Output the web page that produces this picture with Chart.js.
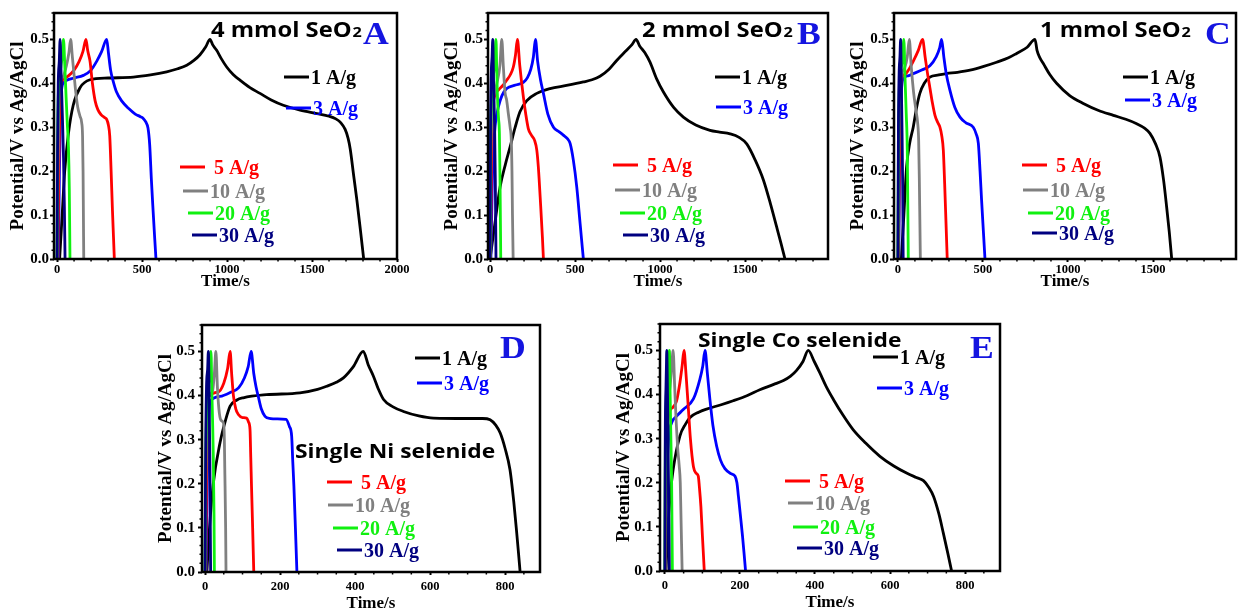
<!DOCTYPE html>
<html>
<head>
<meta charset="utf-8">
<script src="https://cdn.jsdelivr.net/npm/chart.js@4.4.1/dist/chart.umd.min.js"></script>
<style>
  html, body { margin: 0; padding: 0; background: #fff; overflow: hidden; }
  body { width: 1238px; height: 613px; position: relative; }
  canvas { position: absolute; }
</style>
</head>
<body>
<script>
// Charge/discharge curves, [time (s), potential (V)]
const a1 = [[15,0],[30,0.1],[45,0.2],[67,0.286],[95,0.35],[135,0.39],[194,0.408],[300,0.412],[449,0.414],[550,0.419],[645,0.426],[710,0.433],[763,0.441],[805,0.452],[841,0.465],[875,0.483],[900,0.5],[915,0.488],[939,0.475],[968,0.455],[998,0.437],[1036,0.42],[1076,0.407],[1135,0.39],[1194,0.377],[1260,0.362],[1331,0.35],[1430,0.339],[1529,0.331],[1600,0.325],[1640,0.319],[1670,0.31],[1695,0.295],[1712,0.275],[1725,0.25],[1745,0.19],[1764,0.134],[1785,0.065],[1804,0]];
const a3 = [[8,0],[14,0.2],[20,0.33],[28,0.39],[40,0.402],[57,0.407],[100,0.412],[155,0.418],[200,0.43],[233,0.45],[262,0.472],[292,0.5],[302,0.47],[315,0.43],[330,0.405],[350,0.38],[380,0.36],[420,0.343],[460,0.33],[490,0.324],[507,0.32],[522,0.312],[535,0.298],[545,0.26],[555,0.18],[565,0.11],[574,0.05],[582,0]];
const a5 = [[5,0],[10,0.2],[16,0.34],[25,0.4],[40,0.41],[70,0.418],[100,0.43],[130,0.45],[152,0.472],[170,0.5],[180,0.475],[194,0.45],[208,0.4],[224,0.36],[240,0.34],[260,0.328],[280,0.322],[292,0.318],[302,0.305],[310,0.28],[318,0.2],[326,0.11],[332,0.05],[337,0]];
const a10 = [[0,0],[5,0.2],[10,0.34],[18,0.4],[35,0.415],[55,0.44],[70,0.47],[80,0.5],[90,0.46],[100,0.42],[110,0.38],[122,0.345],[135,0.325],[145,0.31],[150,0.28],[153,0.2],[155,0.1],[157,0]];
const a20 = [[0,0],[3,0.25],[8,0.38],[18,0.425],[30,0.46],[38,0.5],[45,0.445],[53,0.37],[60,0.31],[67,0.255],[72,0.16],[76,0]];
const a30 = [[0,0],[3,0.25],[7,0.4],[13,0.45],[18,0.5],[24,0.42],[31,0.33],[38,0.23],[43,0.12],[47,0]];

const b1 = [[0,0],[30,0.085],[59,0.164],[90,0.215],[118,0.255],[148,0.3],[176,0.335],[215,0.36],[275,0.377],[353,0.388],[450,0.395],[549,0.403],[600,0.408],[647,0.416],[700,0.432],[745,0.452],[800,0.474],[835,0.488],[859,0.5],[880,0.485],[910,0.47],[941,0.448],[980,0.41],[1020,0.38],[1080,0.345],[1137,0.323],[1210,0.305],[1294,0.293],[1350,0.289],[1412,0.285],[1465,0.277],[1510,0.262],[1560,0.225],[1608,0.18],[1650,0.125],[1686,0.073],[1712,0.035],[1735,0]];
const b3 = [[5,0],[12,0.15],[20,0.25],[32,0.31],[49,0.346],[70,0.372],[98,0.388],[150,0.396],[196,0.402],[220,0.413],[240,0.432],[255,0.46],[267,0.5],[280,0.45],[296,0.41],[314,0.377],[340,0.33],[373,0.3],[405,0.29],[431,0.282],[455,0.274],[471,0.263],[490,0.225],[510,0.164],[530,0.08],[549,0]];
const b5 = [[3,0],[8,0.2],[15,0.33],[28,0.372],[50,0.385],[75,0.395],[98,0.407],[120,0.42],[137,0.437],[150,0.465],[161,0.5],[175,0.44],[196,0.369],[210,0.33],[225,0.297],[245,0.281],[262,0.27],[275,0.248],[284,0.21],[298,0.12],[308,0.05],[314,0]];
const b10 = [[0,0],[4,0.2],[10,0.33],[22,0.37],[40,0.4],[58,0.44],[69,0.5],[78,0.44],[88,0.38],[98,0.361],[108,0.33],[118,0.3],[125,0.27],[129,0.2],[132,0.1],[136,0]];
const b20 = [[0,0],[3,0.25],[8,0.36],[18,0.41],[28,0.45],[35,0.5],[39,0.44],[43,0.377],[50,0.32],[55,0.286],[59,0.17],[63,0]];
const b30 = [[0,0],[3,0.3],[7,0.42],[12,0.46],[16,0.5],[21,0.4],[27,0.3],[31,0.18],[35,0]];

const c1 = [[20,0],[35,0.1],[51,0.21],[70,0.265],[90,0.3],[110,0.345],[129,0.377],[155,0.4],[188,0.414],[240,0.419],[286,0.422],[350,0.425],[424,0.43],[500,0.438],[580,0.448],[650,0.458],[698,0.468],[760,0.482],[806,0.5],[818,0.475],[835,0.458],[855,0.445],[893,0.42],[933,0.4],[1010,0.372],[1090,0.354],[1180,0.338],[1267,0.327],[1340,0.318],[1404,0.308],[1450,0.298],[1482,0.286],[1515,0.262],[1541,0.232],[1562,0.18],[1580,0.119],[1596,0.06],[1610,0]];
const c3 = [[5,0],[10,0.2],[18,0.36],[31,0.41],[60,0.417],[90,0.422],[140,0.43],[188,0.44],[225,0.46],[245,0.48],[257,0.5],[270,0.46],[285,0.42],[306,0.384],[335,0.345],[365,0.323],[400,0.31],[443,0.3],[460,0.285],[473,0.263],[483,0.2],[492,0.134],[503,0.06],[512,0]];
const c5 = [[3,0],[8,0.2],[15,0.37],[25,0.415],[40,0.42],[65,0.432],[90,0.45],[120,0.475],[145,0.5],[160,0.46],[175,0.42],[188,0.39],[203,0.355],[218,0.327],[235,0.31],[247,0.3],[258,0.28],[267,0.248],[275,0.17],[283,0.08],[290,0]];
const c10 = [[0,0],[4,0.2],[10,0.36],[20,0.415],[40,0.435],[55,0.46],[67,0.5],[78,0.44],[92,0.38],[106,0.339],[116,0.31],[122,0.27],[126,0.18],[129,0.09],[132,0]];
const c20 = [[0,0],[3,0.25],[8,0.38],[18,0.43],[28,0.46],[35,0.5],[42,0.41],[49,0.33],[55,0.25],[58,0.13],[61,0]];
const c30 = [[0,0],[3,0.3],[7,0.42],[12,0.46],[16,0.5],[20,0.4],[24,0.3],[28,0.17],[31,0]];

const d1 = [[5,0],[12,0.1],[22,0.2],[40,0.293],[55,0.345],[67,0.376],[85,0.39],[102,0.395],[164,0.402],[253,0.406],[300,0.414],[324,0.421],[350,0.43],[369,0.44],[395,0.465],[422,0.5],[435,0.47],[449,0.444],[462,0.415],[476,0.391],[500,0.375],[529,0.364],[570,0.354],[609,0.349],[698,0.348],[740,0.348],[760,0.345],[775,0.333],[787,0.315],[800,0.28],[813,0.232],[823,0.16],[831,0.088],[836,0.04],[840,0]];
const d3 = [[3,0],[6,0.2],[10,0.35],[15,0.388],[40,0.398],[70,0.408],[90,0.418],[105,0.44],[115,0.465],[123,0.5],[130,0.45],[136,0.42],[142,0.398],[150,0.37],[160,0.353],[175,0.348],[191,0.347],[216,0.346],[225,0.33],[231,0.308],[234,0.25],[237,0.194],[241,0.1],[245,0]];
const d5 = [[2,0],[4,0.2],[7,0.36],[10,0.398],[35,0.408],[50,0.428],[60,0.46],[67,0.5],[71,0.45],[76,0.398],[82,0.37],[89,0.357],[100,0.35],[111,0.349],[116,0.34],[120,0.323],[122,0.26],[124,0.194],[127,0.1],[130,0]];
const d10 = [[0,0],[2,0.2],[5,0.36],[10,0.4],[20,0.41],[25,0.45],[29,0.5],[33,0.42],[37,0.37],[42,0.345],[48,0.34],[51,0.32],[53,0.22],[55,0.1],[56,0]];
const d20 = [[0,0],[2,0.25],[5,0.38],[9,0.42],[13,0.46],[16,0.5],[18,0.42],[20,0.35],[22,0.27],[24,0.13],[25,0]];
const d30 = [[0,0],[2,0.3],[4,0.42],[7,0.46],[9,0.5],[11,0.4],[13,0.25],[14,0.12],[15,0]];

const e1 = [[3,0],[8,0.1],[14,0.17],[22,0.23],[40,0.306],[55,0.333],[67,0.348],[90,0.36],[111,0.367],[150,0.377],[182,0.386],[220,0.398],[253,0.411],[290,0.423],[316,0.432],[335,0.442],[351,0.455],[368,0.475],[382,0.5],[398,0.475],[413,0.449],[430,0.418],[449,0.389],[475,0.353],[502,0.32],[535,0.29],[573,0.26],[610,0.238],[644,0.222],[670,0.212],[689,0.205],[703,0.19],[716,0.169],[730,0.13],[742,0.086],[754,0.04],[764,0]];
const e3 = [[2,0],[5,0.2],[10,0.3],[18,0.336],[30,0.35],[49,0.366],[76,0.39],[93,0.434],[101,0.465],[107,0.5],[113,0.45],[120,0.389],[128,0.33],[138,0.283],[148,0.252],[160,0.232],[175,0.221],[187,0.215],[192,0.2],[196,0.169],[202,0.12],[207,0.078],[211,0.04],[215,0]];
const e5 = [[1,0],[3,0.2],[6,0.32],[12,0.36],[22,0.372],[31,0.385],[40,0.427],[46,0.465],[51,0.5],[56,0.45],[62,0.376],[68,0.3],[76,0.237],[83,0.222],[89,0.215],[92,0.19],[96,0.146],[100,0.08],[105,0]];
const e10 = [[0,0],[1,0.2],[3,0.33],[8,0.38],[14,0.42],[18,0.46],[22,0.5],[26,0.42],[30,0.34],[34,0.28],[38,0.24],[41,0.2],[43,0.12],[46,0]];
const e20 = [[0,0],[1,0.25],[3,0.35],[7,0.42],[10,0.46],[12,0.5],[14,0.4],[16,0.3],[18,0.2],[19,0.1],[20,0]];
const e30 = [[0,0],[1,0.3],[3,0.42],[4,0.46],[5,0.5],[7,0.4],[9,0.25],[11,0.1],[12,0]];

const rates = ["1 A/g", "3 A/g", "5 A/g", "10 A/g", "20 A/g", "30 A/g"];
const lineColors = ["#000000", "#0000ff", "#ff0000", "#808080", "#10f010", "#000080"];
const xTicksTop = [0, 500, 1000, 1500, 2000];
const xTicksBottom = [0, 200, 400, 600, 800];
const yTicks = [0, 0.1, 0.2, 0.3, 0.4, 0.5];
const yTickLabels = ["0.0", "0.1", "0.2", "0.3", "0.4", "0.5"];

const serif = "'Liberation Serif', 'Times New Roman', serif";
const sans = "'Open Sans', 'Noto Sans', sans-serif";
const letterColor = "#1414e0";

// Layout of the five panels (page pixels): plot box, axis ranges, annotations
const panels = [
  { box: [54, 13, 397, 259], xMin: -18, xMax: 2000, xTicks: xTicksTop, xMajor: 500, xMinor: 100, row: 0, extraRight: 14,
    series: [a1, a3, a5, a10, a20, a30],
    legend: [[284, 77], [286, 108], [180, 167], [183, 191], [188, 213], [192, 235]],
    letter: ["A", 363, 44], title: ["4 mmol SeO", "2", 211, 37, 22] },
  { box: [488, 13, 828, 259], xMin: -12, xMax: 1988, xTicks: xTicksTop, xMajor: 500, xMinor: 100, row: 0, extraRight: 0,
    series: [b1, b3, b5, b10, b20, b30],
    legend: [[715, 77], [716, 107], [613, 165], [615, 190], [620, 213], [623, 235]],
    letter: ["B", 797, 44], title: ["2 mmol SeO", "2", 642, 37, 22] },
  { box: [894, 13, 1236, 259], xMin: -23, xMax: 1988, xTicks: xTicksTop, xMajor: 500, xMinor: 100, row: 0, extraRight: 0,
    series: [c1, c3, c5, c10, c20, c30],
    legend: [[1123, 77], [1125, 100], [1022, 165], [1023, 190], [1028, 213], [1032, 233]],
    letter: ["C", 1205, 44], title: ["1 mmol SeO", "2", 1040, 37, 22] },
  { box: [202, 325, 540, 572], xMin: -8, xMax: 893, xTicks: xTicksBottom, xMajor: 200, xMinor: 50, row: 1, extraRight: 0,
    series: [d1, d3, d5, d10, d20, d30],
    legend: [[415, 358], [417, 383], [327, 482], [328, 505], [333, 528], [337, 550]],
    letter: ["D", 500, 358], title: ["Single Ni selenide", "", 295, 458, 19] },
  { box: [660, 324, 1000, 571], xMin: -13, xMax: 893, xTicks: xTicksBottom, xMajor: 200, xMinor: 50, row: 1, extraRight: 0,
    series: [e1, e3, e5, e10, e20, e30],
    legend: [[873, 357], [877, 388], [785, 481], [788, 503], [793, 527], [797, 548]],
    letter: ["E", 970, 358], title: ["Single Co selenide", "", 698, 347, 19] },
];

const Y_AXIS_W = 54;

function drawText(ctx, text, x, y, font, color, sx = 1) {
  ctx.save();
  ctx.translate(x, y);
  ctx.scale(sx, 1);
  ctx.font = font;
  ctx.fillStyle = color;
  ctx.textBaseline = "alphabetic";
  ctx.textAlign = "left";
  ctx.fillText(text, 0, 0);
  const w = ctx.measureText(text).width * sx;
  ctx.restore();
  return w;
}

// Frame, minor ticks, legend and labels drawn on top of each panel
const frame = {
  id: "frame",
  afterDraw(chart, args, opts) {
    const p = opts.panel;
    const { ctx, chartArea: a } = chart;
    const { x, y } = chart.scales;
    const ox = p.left, oy = p.top;
    ctx.save();

    ctx.strokeStyle = "#000";
    ctx.lineWidth = 1.5;
    ctx.beginPath();
    for (let v = Math.ceil(x.min / p.xMinor) * p.xMinor; v <= x.max; v += p.xMinor) {
      if (v % p.xMajor === 0) continue;
      const px = x.getPixelForValue(v);
      ctx.moveTo(px, a.bottom);
      ctx.lineTo(px, a.bottom + 2.5);
    }
    for (let i = 1; i * 0.02 <= y.max + 1e-9; i++) {
      if (i % 5 === 0) continue;
      const py = y.getPixelForValue(i * 0.02);
      ctx.moveTo(a.left - 2.5, py);
      ctx.lineTo(a.left, py);
    }
    ctx.stroke();

    ctx.lineWidth = 2.5;
    ctx.strokeRect(a.left, a.top, a.right - a.left, a.bottom - a.top);

    // legend: short dash followed by the rate
    p.legend.forEach(([lx, ly], i) => {
      ctx.strokeStyle = lineColors[i];
      ctx.lineWidth = 3;
      ctx.beginPath();
      ctx.moveTo(lx - ox, ly - oy);
      ctx.lineTo(lx + 25 - ox, ly - oy);
      ctx.stroke();
      const gap = i === 2 ? 9 : 2;
      drawText(ctx, rates[i], lx + 25 + gap - ox, ly + 7 - oy,
        `bold 20px ${serif}`, lineColors[i]);
    });

    const [txt, sub, tx, ty, ts] = p.title;
    const sx = sub ? 1.08 : 1.2;
    const w = drawText(ctx, txt, tx - ox, ty - oy, `bold ${ts}px ${sans}`, "#000", sx);
    if (sub) drawText(ctx, sub, tx + w + 1 - ox, ty - oy, `bold 15px ${sans}`, "#000", sx);

    const [letter, lx, ly] = p.letter;
    drawText(ctx, letter, lx - ox, ly - oy, `bold 31px ${serif}`, letterColor, 1.15);

    ctx.restore();
  },
};

panels.forEach((p) => {
  const [bl, bt, br, bb] = p.box;
  const xAxisH = p.row === 0 ? 33 : 42;
  p.left = bl - Y_AXIS_W;
  p.top = bt - 3;
  const width = br + 3 + p.extraRight - p.left;
  const height = bb + xAxisH - p.top;

  const canvas = document.createElement("canvas");
  canvas.width = width;
  canvas.height = height;
  canvas.style.left = `${p.left}px`;
  canvas.style.top = `${p.top}px`;
  canvas.style.width = `${width}px`;
  canvas.style.height = `${height}px`;
  document.body.appendChild(canvas);

  const datasets = p.series.map((pts, i) => ({
    label: rates[i],
    data: pts.map(([t, v]) => ({ x: t, y: v })),
    borderColor: lineColors[i],
    order: p.series.length - i,
  }));

  const tickFont = { family: serif, weight: "bold" };

  new Chart(canvas, {
    type: "line",
    data: { datasets },
    options: {
      responsive: false,
      animation: false,
      events: [],
      layout: { padding: { left: 0, top: 3, right: 3 + p.extraRight, bottom: 0 } },
      elements: {
        point: { radius: 0 },
        line: { borderWidth: 2.8, cubicInterpolationMode: "monotone" },
      },
      plugins: {
        legend: { display: false },
        tooltip: { enabled: false },
        frame: { panel: p },
      },
      scales: {
        x: {
          type: "linear",
          min: p.xMin,
          max: p.xMax,
          afterBuildTicks(s) {
            s.ticks = p.xTicks.filter((v) => v >= p.xMin && v <= p.xMax).map((v) => ({ value: v }));
          },
          afterFit(s) {
            s.height = xAxisH;
            s.paddingLeft = 0;
            s.paddingRight = 0;
          },
          border: { display: false },
          grid: { drawOnChartArea: false, tickLength: 3, tickWidth: 2, tickColor: "#000" },
          ticks: {
            autoSkip: false,
            maxRotation: 0,
            padding: p.row === 0 ? 0 : 4,
            color: "#000",
            font: { ...tickFont, size: 12.5 },
            callback: (v) => String(v),
          },
          title: {
            display: true,
            text: "Time/s",
            color: "#000",
            padding: 0,
            font: { family: serif, weight: "bold", size: 17 },
          },
        },
        y: {
          type: "linear",
          min: 0,
          max: 0.56,
          afterBuildTicks(s) {
            s.ticks = yTicks.map((v) => ({ value: v }));
          },
          afterFit(s) {
            s.width = Y_AXIS_W;
            s.paddingTop = 0;
            s.paddingBottom = 0;
          },
          border: { display: false },
          grid: { drawOnChartArea: false, tickLength: 4, tickWidth: 2, tickColor: "#000" },
          ticks: {
            padding: p.row === 0 ? 1 : 3,
            color: "#000",
            font: { ...tickFont, size: 15 },
            callback: (v) => yTickLabels[Math.round(v * 10)],
          },
          title: {
            display: true,
            text: "Potential/V vs Ag/AgCl",
            color: "#000",
            padding: { top: 7, bottom: 0 },
            font: { family: serif, weight: "bold", size: 19 },
          },
        },
      },
    },
    plugins: [frame],
  });
});
</script>
</body>
</html>
